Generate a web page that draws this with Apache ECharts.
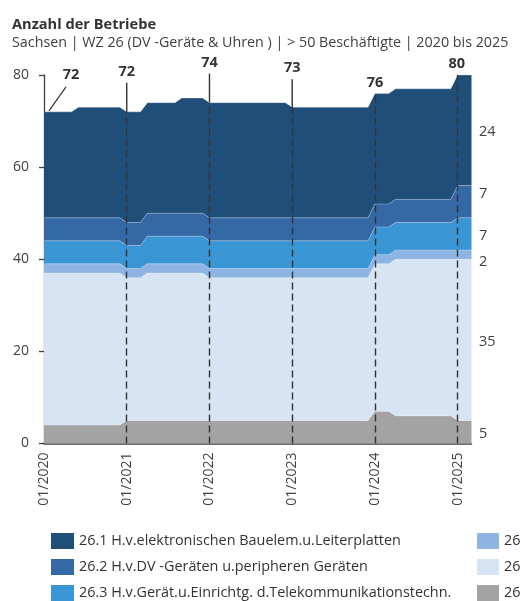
<!DOCTYPE html>
<html>
<head>
<meta charset="utf-8">
<script src="https://cdn.jsdelivr.net/npm/echarts@6/dist/echarts.min.js"></script>
<style>
  html, body { margin: 0; padding: 0; background: #fff; }
  #chart { width: 521px; height: 601px; }
</style>
</head>
<body>
<div id="chart"></div>
<script>
// Monthly observations, 01/2020 … 03/2025
const months = [
  "01/2020","02/2020","03/2020","04/2020","05/2020","06/2020","07/2020","08/2020","09/2020","10/2020","11/2020","12/2020",
  "01/2021","02/2021","03/2021","04/2021","05/2021","06/2021","07/2021","08/2021","09/2021","10/2021","11/2021","12/2021",
  "01/2022","02/2022","03/2022","04/2022","05/2022","06/2022","07/2022","08/2022","09/2022","10/2022","11/2022","12/2022",
  "01/2023","02/2023","03/2023","04/2023","05/2023","06/2023","07/2023","08/2023","09/2023","10/2023","11/2023","12/2023",
  "01/2024","02/2024","03/2024","04/2024","05/2024","06/2024","07/2024","08/2024","09/2024","10/2024","11/2024","12/2024",
  "01/2025","02/2025","03/2025"
];

// Number of establishments per branch (WZ 26.x)
const wz261 = [
  23,23,23,23,23,24,24,24,24,24,24,24,
  24,24,24,24,24,24,24,24,25,25,25,25,
  25,25,25,25,25,25,25,25,25,25,25,25,
  24,24,24,24,24,24,24,24,24,24,24,24,
  24,24,24,24,24,24,24,24,24,24,24,24,
  24,24,24
];
const wz262 = [
  5,5,5,5,5,5,5,5,5,5,5,5,
  5,5,5,5,5,5,5,5,5,5,5,5,
  5,5,5,5,5,5,5,5,5,5,5,5,
  5,5,5,5,5,5,5,5,5,5,5,5,
  5,5,5,5,5,5,5,5,5,5,5,5,
  7,7,7
];
const wz263 = [
  5,5,5,5,5,5,5,5,5,5,5,5,
  5,5,5,6,6,6,6,6,6,6,6,6,
  6,6,6,6,6,6,6,6,6,6,6,6,
  6,6,6,6,6,6,6,6,6,6,6,6,
  6,6,6,6,6,6,6,6,6,6,6,6,
  7,7,7
];
const wz264 = [
  2,2,2,2,2,2,2,2,2,2,2,2,
  2,2,2,2,2,2,2,2,2,2,2,2,
  2,2,2,2,2,2,2,2,2,2,2,2,
  2,2,2,2,2,2,2,2,2,2,2,2,
  2,2,2,2,2,2,2,2,2,2,2,2,
  2,2,2
];
const wz265 = [
  33,33,33,33,33,33,33,33,33,33,33,33,
  31,31,31,32,32,32,32,32,32,32,32,32,
  31,31,31,31,31,31,31,31,31,31,31,31,
  31,31,31,31,31,31,31,31,31,31,31,31,
  32,32,32,34,34,34,34,34,34,34,34,34,
  35,35,35
];
const wz266 = [
  4,4,4,4,4,4,4,4,4,4,4,4,
  5,5,5,5,5,5,5,5,5,5,5,5,
  5,5,5,5,5,5,5,5,5,5,5,5,
  5,5,5,5,5,5,5,5,5,5,5,5,
  7,7,7,6,6,6,6,6,6,6,6,6,
  5,5,5
];

const names = [
  "26.1 H.v.elektronischen Bauelem.u.Leiterplatten",
  "26.2 H.v.DV -Geräten u.peripheren Geräten",
  "26.3 H.v.Gerät.u.Einrichtg. d.Telekommunikationstechn.",
  "26.4 H.v.Geräten d.Unterhaltungselektronik",
  "26.5 H.v.Mess-,Kontroll-,Navigations-u.ä.Instrumenten",
  "26.6 H.v.Bestrahlungs-u.Elektrotherapiegeräten"
];
const yTicks = [0, 20, 40, 60, 80];
const januaryIdx = [0, 12, 24, 36, 48, 60];

const FONT = '"Open Sans", "Noto Sans", sans-serif';
const colors = ["#1f4e79", "#3569a6", "#3995d4", "#8db4e2", "#d6e4f3", "#a3a3a3"];

// stacked from the bottom up
const layers = [
  { name: names[5], data: wz266, color: colors[5] },
  { name: names[4], data: wz265, color: colors[4] },
  { name: names[3], data: wz264, color: colors[3] },
  { name: names[2], data: wz263, color: colors[2] },
  { name: names[1], data: wz262, color: colors[1] },
  { name: names[0], data: wz261, color: colors[0] }
];

const totals = months.map((_, i) => layers.reduce((s, l) => s + l.data[i], 0));
const last = months.length - 1;

const series = layers.map((l) => ({
  name: l.name,
  type: 'line',
  stack: 'total',
  data: l.data,
  symbol: 'none',
  showSymbol: false,
  color: l.color,
  itemStyle: { color: l.color },
  lineStyle: { width: 0.8, color: 'rgba(255,255,255,0.35)' },
  areaStyle: { color: l.color, opacity: 1 },
  emphasis: { disabled: true },
  z: 2
}));

// dashed year markers from the x axis up to the total of each January
series[series.length - 1].markLine = {
  silent: true,
  symbol: ['none', 'none'],
  label: { show: false },
  lineStyle: { color: '#333', width: 1.4, type: [7, 4] },
  data: januaryIdx.slice(1).map(i => [
    { coord: [months[i], 0] },
    { coord: [months[i], totals[i]] }
  ])
};

const option = {
  animation: false,
  backgroundColor: '#fff',
  title: {
    text: 'Anzahl der Betriebe',
    subtext: 'Sachsen | WZ 26 (DV -Geräte & Uhren ) | > 50 Beschäftigte | 2020 bis 2025',
    left: 7,
    top: 12,
    itemGap: 4,
    textStyle: { fontFamily: FONT, fontSize: 14.6, fontWeight: 'bold', color: '#333' },
    subtextStyle: { fontFamily: FONT, fontSize: 14.3, color: '#404040' }
  },
  legend: [
    {
      left: 51, top: 533, orient: 'vertical', padding: 0,
      itemWidth: 23, itemHeight: 16, itemGap: 10, icon: 'rect',
      selectedMode: false,
      data: names.slice(0, 3),
      itemStyle: { borderWidth: 0 },
      textStyle: { fontFamily: FONT, fontSize: 14.4, color: '#333' }
    },
    {
      left: 477, top: 533, orient: 'vertical', padding: 0,
      itemWidth: 22, itemHeight: 16, itemGap: 10, icon: 'rect',
      selectedMode: false,
      data: names.slice(3),
      itemStyle: { borderWidth: 0 },
      textStyle: { fontFamily: FONT, fontSize: 14.4, color: '#333' }
    }
  ],
  grid: { left: 44, top: 75, width: 427.5, height: 368.5, containLabel: false },
  xAxis: {
    type: 'category',
    data: months,
    boundaryGap: false,
    axisLine: { lineStyle: { color: '#404040', width: 1.5 } },
    axisTick: { show: false },
    axisLabel: {
      interval: (i) => i % 12 === 0,
      rotate: 90,
      margin: 9,
      fontFamily: FONT, fontSize: 14, color: '#404040'
    },
    splitLine: { show: false }
  },
  yAxis: {
    type: 'value',
    min: yTicks[0],
    max: yTicks[yTicks.length - 1],
    interval: 20,
    axisLine: { show: true, lineStyle: { color: '#404040', width: 1.3 } },
    axisTick: { show: true, length: 5, lineStyle: { color: '#404040', width: 1.3 } },
    axisLabel: { margin: 15, fontFamily: FONT, fontSize: 14, color: '#404040' },
    splitLine: { show: false }
  },
  series: series
};

const chart = echarts.init(document.getElementById('chart'), null, { renderer: 'canvas' });
chart.setOption(option);

// annotation placement (pixel offsets relative to the data point)
const topLabelOffsets = {
  0:  { dx: 27, dy: -37, leader: 'diag' },
  12: { dx: 0,  dy: -40, leader: 'v' },
  24: { dx: 0,  dy: -40, leader: 'v' },
  36: { dx: 0,  dy: -39, leader: 'v' },
  48: { dx: 0,  dy: -11, leader: null },
  60: { dx: -1, dy: -11, leader: null }
};
// vertical nudges for the end-of-series labels (bottom to top layer order)
const endLabelNudge = [1.5, 2.5, 7, 2, -7.5, 1.5];

const graphics = [];
const toPx = (i, v) => chart.convertToPixel({ xAxisIndex: 0, yAxisIndex: 0 }, [i, v]);

januaryIdx.forEach(i => {
  const p = toPx(i, totals[i]);
  const o = topLabelOffsets[i];
  const cx = p[0] + o.dx, cy = p[1] + o.dy;
  graphics.push({
    type: 'text', x: cx, y: cy, z: 10, silent: true,
    style: {
      text: String(totals[i]), align: 'center', verticalAlign: 'middle',
      font: 'bold 14.5px ' + FONT, fill: '#333'
    }
  });
  if (o.leader === 'v') {
    graphics.push({
      type: 'line', z: 10, silent: true,
      shape: { x1: p[0], y1: cy + 11, x2: p[0], y2: p[1] },
      style: { stroke: '#333', lineWidth: 1.4 }
    });
  } else if (o.leader === 'diag') {
    graphics.push({
      type: 'line', z: 10, silent: true,
      shape: { x1: p[0] + 5, y1: p[1] - 1, x2: cx - 5, y2: cy + 12 },
      style: { stroke: '#333', lineWidth: 1.2 }
    });
  }
});

// values of the last month, placed beside the middle of each layer
let base = 0;
layers.forEach((l, k) => {
  const v = l.data[last];
  const p = toPx(last, base + v / 2);
  base += v;
  graphics.push({
    type: 'text', x: p[0] + 7.5, y: p[1] + endLabelNudge[k], z: 10, silent: true,
    style: {
      text: String(v), align: 'left', verticalAlign: 'middle',
      font: '14.5px ' + FONT, fill: '#404040'
    }
  });
});

chart.setOption({ graphic: graphics });
</script>
</body>
</html>
